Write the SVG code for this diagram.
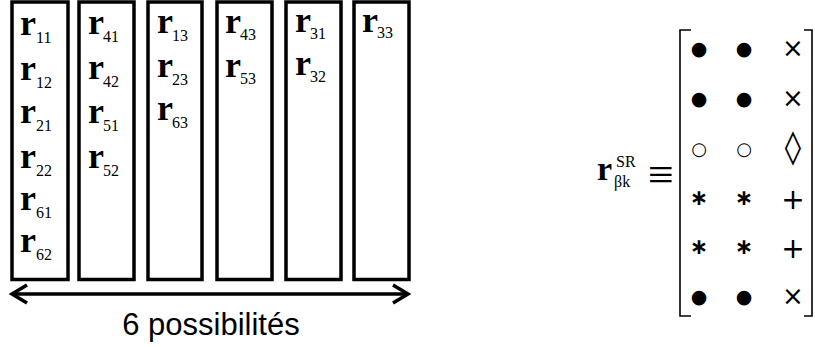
<svg xmlns="http://www.w3.org/2000/svg" width="815" height="347" viewBox="0 0 815 347">
<style>
.box{fill:#fff;stroke:#000;stroke-width:3.5}
.r{font-family:"Liberation Serif","Times New Roman",serif;font-size:36px;font-weight:bold;fill:#000}
.s{font-family:"Liberation Serif","Times New Roman",serif;font-size:16px;fill:#000}
.lbl{font-family:"Liberation Sans",Arial,sans-serif;font-size:31px;fill:#000}
.m{font-family:"DejaVu Sans","Liberation Sans",sans-serif;fill:#000;text-anchor:middle;dominant-baseline:central}
.dot{font-size:19px}
.x{font-size:26px}
.o{font-size:18px}
.d{font-size:33px}
.a{font-size:22px;font-weight:bold}
.p{font-size:28px}
.br{fill:none;stroke:#000;stroke-width:1.6}
.arr{fill:none;stroke:#000;stroke-width:3.5;stroke-linecap:butt}
</style>
<rect width="815" height="347" fill="#fff"/>
<g id="col1">
<rect class="box" x="12" y="2" width="56" height="277.5"/>
<text class="r" x="20" y="35">r</text><text class="s" x="36" y="43">11</text>
<text class="r" x="20" y="80">r</text><text class="s" x="36" y="88">12</text>
<text class="r" x="20" y="123">r</text><text class="s" x="36" y="131">21</text>
<text class="r" x="20" y="168">r</text><text class="s" x="36" y="176">22</text>
<text class="r" x="20" y="210">r</text><text class="s" x="36" y="218">61</text>
<text class="r" x="20" y="252">r</text><text class="s" x="36" y="260">62</text>
</g>
<g id="col2">
<rect class="box" x="79" y="2" width="55" height="277.5"/>
<text class="r" x="88" y="34">r</text><text class="s" x="103" y="42">41</text>
<text class="r" x="88" y="79">r</text><text class="s" x="103" y="87">42</text>
<text class="r" x="88" y="123">r</text><text class="s" x="103" y="131">51</text>
<text class="r" x="88" y="168">r</text><text class="s" x="103" y="176">52</text>
</g>
<g id="col3">
<rect class="box" x="148" y="2" width="54" height="277.5"/>
<text class="r" x="157" y="33">r</text><text class="s" x="172" y="41">13</text>
<text class="r" x="157" y="77">r</text><text class="s" x="172" y="85">23</text>
<text class="r" x="157" y="120">r</text><text class="s" x="172" y="128">63</text>
</g>
<g id="col4">
<rect class="box" x="217" y="2" width="55" height="277.5"/>
<text class="r" x="225" y="33">r</text><text class="s" x="240" y="40">43</text>
<text class="r" x="225" y="77">r</text><text class="s" x="240" y="84">53</text>
</g>
<g id="col5">
<rect class="box" x="286" y="2" width="55" height="277.5"/>
<text class="r" x="295" y="32">r</text><text class="s" x="310" y="39">31</text>
<text class="r" x="295" y="75">r</text><text class="s" x="310" y="82">32</text>
</g>
<g id="col6">
<rect class="box" x="354" y="2" width="55" height="277.5"/>
<text class="r" x="362" y="32">r</text><text class="s" x="377" y="38">33</text>
</g>
<g id="connectors">
<line class="arr" x1="13" y1="294" x2="406" y2="294"/>
<polyline class="arr" points="27,285 12,294 27,303"/>
<polyline class="arr" points="393,285 408,294 393,303"/>
</g>
<g id="label">
<text class="lbl" x="211" y="335" text-anchor="middle">6 possibilités</text>
</g>
<g id="matrix">
<text x="597" y="180" style="font-family:'Liberation Serif',serif;font-size:34px;font-weight:bold">r</text>
<text x="616" y="167" style="font-family:'Liberation Serif',serif;font-size:16px">SR</text>
<text x="614" y="187" style="font-family:'Liberation Serif',serif;font-size:16px">βk</text>
<text x="661" y="174" style="font-family:'Liberation Serif',serif;font-size:46px;text-anchor:middle;dominant-baseline:central">≡</text>
<polyline class="br" points="691,30 680,30 680,316 691,316"/>
<polyline class="br" points="804,30 812,30 812,316 804,316"/>
<text class="m dot" x="699" y="48">●</text><text class="m dot" x="744" y="48">●</text><text class="m x" x="793" y="48">×</text>
<text class="m dot" x="699" y="98">●</text><text class="m dot" x="744" y="98">●</text><text class="m x" x="793" y="98">×</text>
<text class="m o" x="699" y="148">○</text><text class="m o" x="744" y="148">○</text><text class="m d" x="793" y="146">◊</text>
<text class="m a" x="699" y="197">∗</text><text class="m a" x="744" y="197">∗</text><text class="m p" x="793" y="199">+</text>
<text class="m a" x="699" y="246">∗</text><text class="m a" x="744" y="246">∗</text><text class="m p" x="793" y="248">+</text>
<text class="m dot" x="699" y="296">●</text><text class="m dot" x="744" y="296">●</text><text class="m x" x="793" y="296">×</text>
</g>
</svg>
